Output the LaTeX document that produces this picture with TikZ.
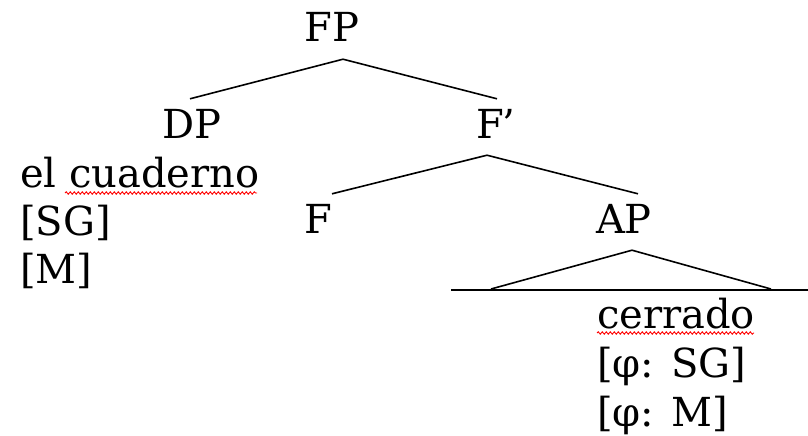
\documentclass[tikz,border=0pt]{standalone}
\usepackage{fontspec}
\setmainfont{DejaVu Serif}
\usetikzlibrary{decorations.pathmorphing}

\begin{document}
\begin{tikzpicture}[x=1pt, y=-1pt, font=\fontsize{40}{48}\selectfont]
\tikzset{cat/.style = {anchor=base, text height=32pt, text depth=10pt, inner sep=7pt}}
\tikzset{feat/.style = {anchor=base west, inner sep=0pt}}
\tikzset{branch/.style = {line width=1.6pt}}
\tikzset{spell/.style = {red, line width=.9pt, decorate, decoration={snake, segment length=4pt, amplitude=1.2pt}}}

\useasboundingbox (0,0) rectangle (808,436);

\node[cat] (FP) at (332, 42) {FP};
\node[cat] (DP) at (192, 138) {DP};
\node[cat] (Fbar) at (496, 138) {F\kern-2pt’};
\node[cat] (F) at (318, 233) {F};
\node[cat] (AP) at (624, 233) {AP};

\foreach \t/\y [count=\i] in {el cuaderno/187, {[SG]}/235, {[M]}/283}
   {\node[feat] (dp\i) at (20, \y) {\t};}

\foreach \t/\y [count=\i] in {cerrado/328, {[φ: SG]}/377, {[φ: M]}/426}
   {\node[feat] (ap\i) at (597, \y) {\t};}

\draw[branch] ([xshift=-2pt]DP.north) -- ([xshift=11pt]FP.south) -- ([xshift=1pt]Fbar.north);
\draw[branch] ([xshift=14pt]F.north) -- ([xshift=-9pt]Fbar.south) -- ([xshift=14pt]AP.north);

\coordinate (triL) at (491, 289);
\coordinate (triR) at (771, 289);
\coordinate (baseL) at (451, 290);
\coordinate (baseR) at (808, 290);
\draw[branch] (triL) -- ([xshift=8pt]AP.south) -- (triR);
\draw[branch] (baseL) -- (baseR);

\draw[spell] (65, 193) -- (257, 193);
\draw[spell] (597, 333) -- (754, 333);

\end{tikzpicture}
\end{document}
